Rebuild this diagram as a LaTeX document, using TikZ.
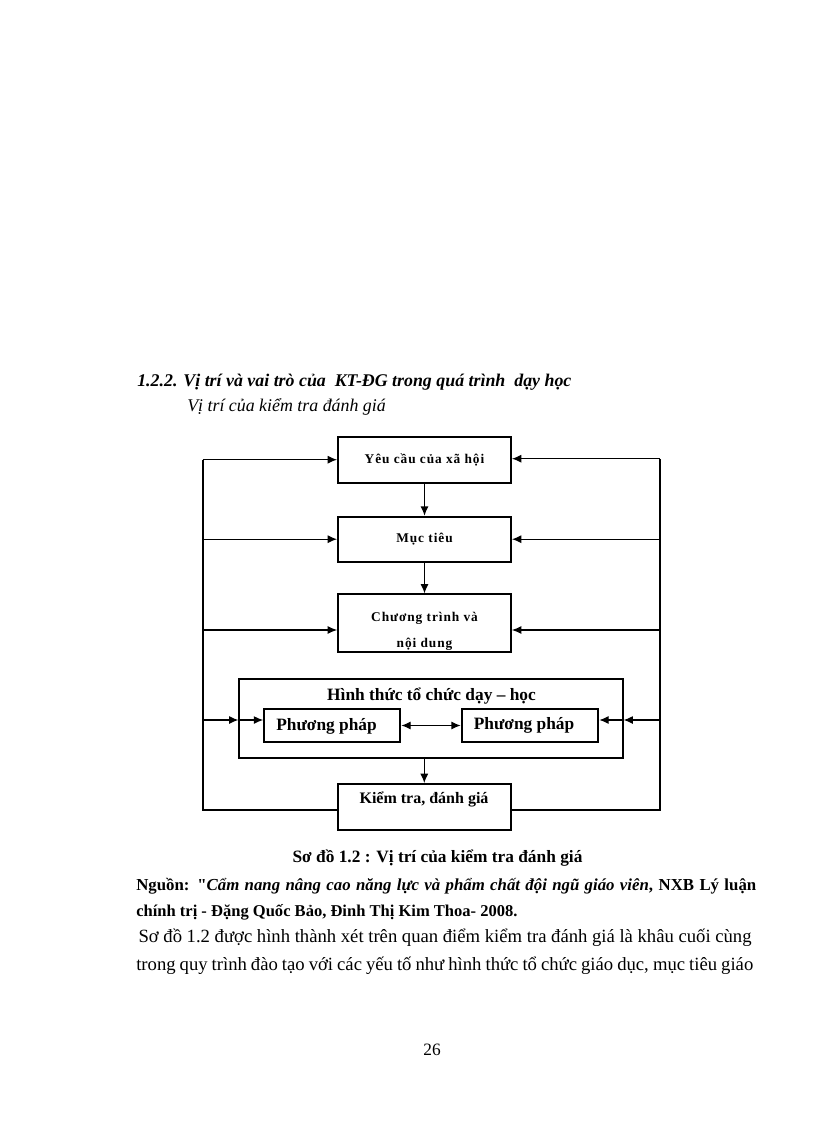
\documentclass[tikz,border=0pt]{standalone}
\usepackage{fontspec}
\setmainfont{Liberation Serif}[Ligatures=TeXOff]
\usetikzlibrary{arrows.meta,calc}
\newcommand{\smb}{\fontsize{10}{12}\selectfont\bfseries\addfontfeature{LetterSpace=7}}
\newcommand{\mdb}{\fontsize{13}{15}\selectfont\bfseries}
\newcommand{\bodyf}{\fontsize{13}{16}\selectfont}
\begin{document}
\begin{tikzpicture}[x=0.75pt,y=-0.75pt,
  box/.style={draw,line width=1.4pt,inner sep=0pt,fill=none},
  txt/.style={inner sep=0pt,anchor=base west},
  ctxt/.style={inner sep=0pt,anchor=base},
  arr/.style={line width=0.9pt,-{Latex[length=7pt,width=6pt]}},
  dblarr/.style={line width=0.9pt,{Latex[length=7pt,width=6pt]}-{Latex[length=7pt,width=6pt]}},
  bus/.style={line width=0.9pt},
  busL/.style={line width=1.3pt}]
\useasboundingbox (0,0) rectangle (816,1123);
\fill[white] (0,0) rectangle (816,1123);

% headings
\node[txt] (h1) at (137,386.7) {\fontsize{13.4}{16}\selectfont\bfseries\itshape 1.2.2. Vị trí và vai trò của\ \ KT-ĐG trong quá trình\ \ dạy học};
\node[txt] (h2) at (187,411.7) {\fontsize{13.4}{16}\selectfont\itshape Vị trí của kiểm tra đánh giá};

% boxes
\node[box,minimum width=129.75pt,minimum height=34.5pt] (yeu) at (424.5,459.7) {\smb Yêu cầu của xã hội};
\node[box,minimum width=129.75pt,minimum height=33.75pt] (muc) at (424.5,539.2) {\smb Mục tiêu};
\node[box,minimum width=129.75pt,minimum height=43pt] (ct) at (424.5,623) {};
\node[ctxt] (ct1) at (424.5,621.5) {\smb Chương trình và};
\node[ctxt] (ct2) at (424.5,647) {\smb nội dung};

\node[box,minimum width=287.5pt,minimum height=59.25pt] (outer) at (431,718.8) {};
\node[ctxt] (title) at (431.5,700.5) {\mdb Hình thức tổ chức dạy – học};
\node[box,minimum width=102.2pt,minimum height=25.2pt] (inl) at (332.2,725.5) {};
\node[ctxt] (inlt) at (326.5,730.5) {\mdb Phương pháp};
\node[box,minimum width=102.5pt,minimum height=25.2pt] (inr) at (530,725.5) {};
\node[ctxt] (inrt) at (524,729) {\mdb Phương pháp};

\node[box,minimum width=130pt,minimum height=34.5pt] (kt) at (424.3,807) {};
\node[ctxt] (ktt) at (424,803.5) {\fontsize{12}{14}\selectfont\bfseries Kiểm tra, đánh giá};

% bus coordinates
\coordinate (Lx) at (202.7,810);
\coordinate (Rx) at (660,810);
\coordinate (ya) at (0,720);

% vertical flow
\draw[arr] (yeu.south) -- (muc.north);
\draw[arr] (muc.south) -- (ct.north);
\draw[arr] (kt.north |- outer.south) -- (kt.north);

% left feedback bus
\draw[busL] (kt.west |- Lx) -- (Lx) -- (Lx |- yeu.west);
\draw[arr] (Lx |- yeu.west) -- (yeu.west);
\draw[arr] (Lx |- muc.west) -- (muc.west);
\draw[arr] ($(Lx |- ct.west)+(0,7)$) -- ($(ct.west)+(0,7)$);
\draw[arr] (Lx |- ya) -- (outer.west |- ya);
\draw[arr] (outer.west |- ya) -- (inl.west |- ya);

% right feedback bus
\draw[bus] (kt.east |- Rx) -- (Rx) -- ($(Rx |- yeu.east)+(0,-1)$);
\draw[arr] ($(Rx |- yeu.east)+(0,-1)$) -- ($(yeu.east)+(0,-1)$);
\draw[arr] (Rx |- muc.east) -- (muc.east);
\draw[arr] ($(Rx |- ct.east)+(0,7)$) -- ($(ct.east)+(0,7)$);
\draw[arr] (Rx |- ya) -- (outer.east |- ya);
\draw[arr] (outer.east |- ya) -- (inr.east |- ya);

% between methods
\draw[dblarr] (inl.east) -- (inr.west);

% caption and source
\node[ctxt] (cap) at (437.5,862.7) {\bodyf\bfseries Sơ đồ 1.2 : Vị trí của kiểm tra đánh giá};
\node[txt] (src1) at (136,890) {\fontsize{12.6}{15}\selectfont\bfseries\makebox[465pt][s]{Nguồn: "\textit{Cẩm nang nâng cao năng lực và phẩm chất đội ngũ giáo viên}, NXB Lý luận}};
\node[txt] (src2) at (136,916) {\fontsize{12.4}{15}\selectfont\bfseries chính trị - Đặng Quốc Bảo, Đinh Thị Kim Thoa- 2008.};

% body
\node[txt] (b1) at (138.3,942.7) {\fontsize{14}{16}\selectfont\makebox[459.75pt][s]{Sơ đồ 1.2 được hình thành xét trên quan điểm kiểm tra đánh giá là khâu cuối cùng}};
\node[txt] (b2) at (136,970) {\fontsize{14}{16}\selectfont\makebox[462.75pt][s]{trong quy trình đào tạo với các yếu tố như hình thức tổ chức giáo dục, mục tiêu giáo}};

\node[ctxt] (pg) at (432,1055) {\bodyf 26};
\end{tikzpicture}
\end{document}
